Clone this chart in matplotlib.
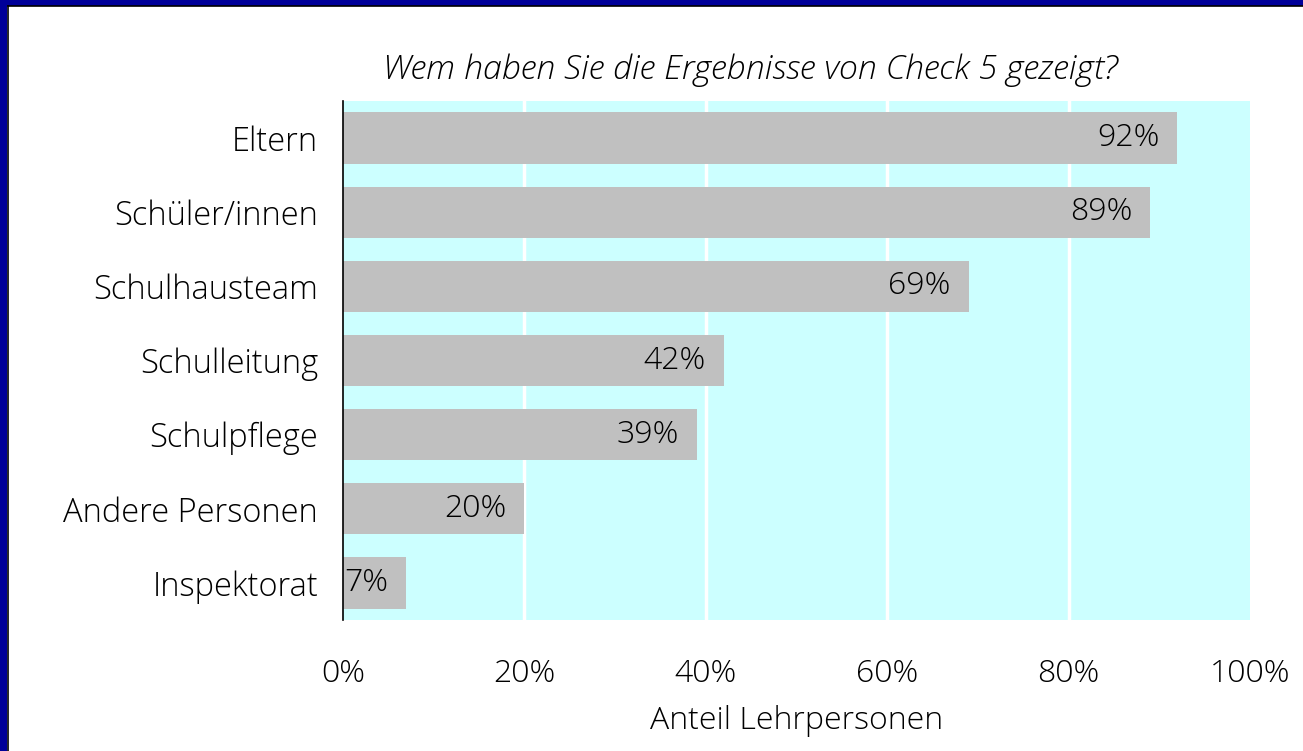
import matplotlib
matplotlib.use("Agg")
import matplotlib.pyplot as plt
from matplotlib.patches import Rectangle
from matplotlib.lines import Line2D

categories = ["Eltern", "Schüler/innen", "Schulhausteam", "Schulleitung",
              "Schulpflege", "Andere Personen", "Inspektorat"]
values = [92, 89, 69, 42, 39, 20, 7]
xticks = [0, 20, 40, 60, 80, 100]
xtick_labels = ["0%", "20%", "40%", "60%", "80%", "100%"]

W, H = 1303, 751
plt.rcParams['font.family'] = ['Open Sans', 'DejaVu Sans']
plt.rcParams['font.weight'] = 'light'
FS = 23

fig = plt.figure(figsize=(W / 100, H / 100), dpi=100)
fig.patch.set_facecolor("white")

# border (left and top only)
fig.patches.append(Rectangle((0, 0), 7 / W, 1, transform=fig.transFigure,
                             facecolor="#000099", edgecolor="none", zorder=0))
fig.patches.append(Rectangle((0, 1 - 5.5 / H), 1, 5.5 / H, transform=fig.transFigure,
                             facecolor="#000099", edgecolor="none", zorder=0))
fig.lines.append(Line2D([7.5 / W, 7.5 / W], [0, 1 - 5.5 / H], transform=fig.transFigure,
                        color="black", lw=1.2))
fig.lines.append(Line2D([7.5 / W, 1], [1 - 6 / H, 1 - 6 / H], transform=fig.transFigure,
                        color="black", lw=1.2))

left, right = 343 / W, 1250 / W
top, bottom = 1 - 101 / H, 1 - 620 / H
ax = fig.add_axes([left, bottom, right - left, top - bottom])
ax.set_facecolor("#CCFFFF")

y = list(range(len(categories)))
ax.barh(y, values, height=0.69, color="#C0C0C0", zorder=2)
for yi, v in zip(y, values):
    ax.annotate(f"{v}%", xy=(v, yi), xytext=(-18, 0), textcoords="offset pixels",
                ha="right", va="center", fontsize=FS, color="black", zorder=3)

ax.set_xlim(0, 100)
ax.set_ylim(len(categories) - 0.5, -0.5)
ax.set_yticks(y)
ax.set_yticklabels(categories, fontsize=23.5)
ax.set_xticks(xticks)
ax.set_xticklabels(xtick_labels, fontsize=FS)
ax.tick_params(axis="both", length=0)
ax.tick_params(axis="y", pad=18)
ax.tick_params(axis="x", pad=27)

for g in [20, 40, 60, 80]:
    ax.axvline(g, color="white", lw=2.5, zorder=1)

for s in ["top", "right", "bottom"]:
    ax.spines[s].set_visible(False)
ax.spines["left"].set_color("black")
ax.spines["left"].set_linewidth(1.2)
ax.spines["left"].set_zorder(4)

ax.set_xlabel("Anteil Lehrpersonen", fontsize=FS, fontweight="light", labelpad=11)
fig.text(750 / W, 1 - 70 / H, "Wem haben Sie die Ergebnisse von Check 5 gezeigt?",
         ha="center", va="center", fontsize=24.5, style="italic", fontweight="light")

fig.savefig("out.png", dpi=100, facecolor="white")
